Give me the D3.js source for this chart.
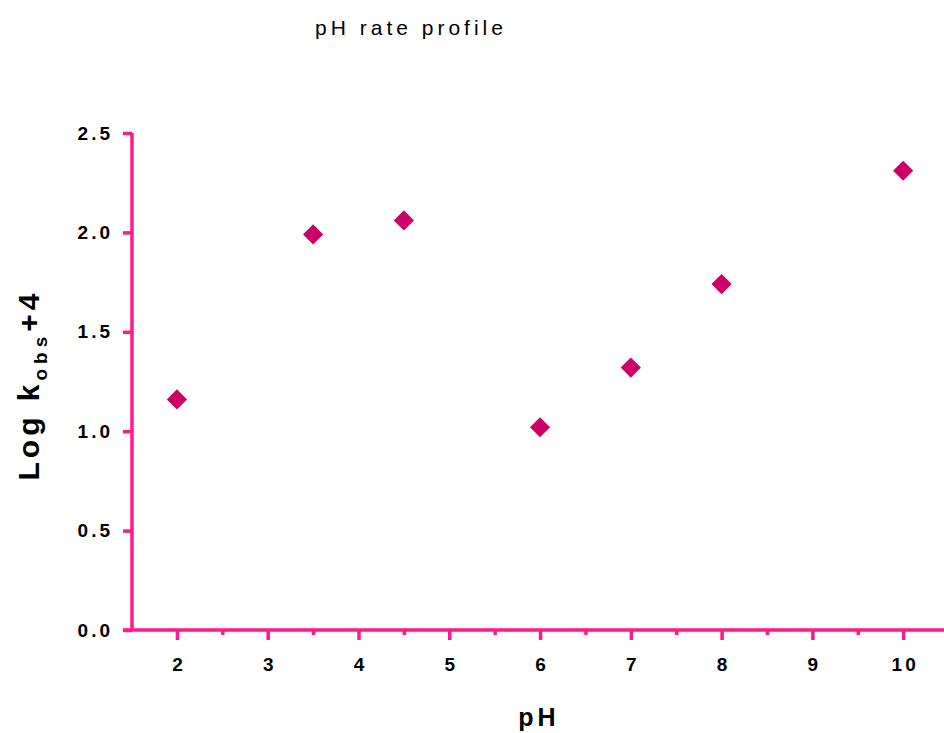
<!DOCTYPE html>
<meta charset="utf-8">
<title>pH rate profile</title>
<style>
body { margin: 0; background: #fff; }
text { font-family: "Liberation Sans", Arial, sans-serif; }
.axis path, .axis line { stroke: #ff1a8c; stroke-width: 3.5; }
.axis text { font-weight: bold; font-size: 19px; letter-spacing: 3px; fill: #000; }
</style>
<body>
<svg width="944" height="733"></svg>
<script src="https://d3js.org/d3.v7.min.js"></script>
<script>
var phValues = [2, 3.5, 4.5, 6, 7, 8, 10];
var logK = [1.16, 1.99, 2.06, 1.02, 1.32, 1.74, 2.31];
var xTicks = [2, 3, 4, 5, 6, 7, 8, 9, 10];
var yTicks = [0, 0.5, 1, 1.5, 2, 2.5];

var svg = d3.select("svg");
var x = d3.scaleLinear().domain([1.505, 10.45]).range([132, 944]);
var y = d3.scaleLinear().domain([0, 2.5]).range([630, 133]);

// title
svg.append("text")
    .attr("x", 411).attr("y", 35)
    .attr("text-anchor", "middle")
    .style("font-size", "21px")
    .style("letter-spacing", "4px")
    .text("pH rate profile");

// x axis, major + minor ticks
svg.append("g")
    .attr("class", "axis")
    .attr("transform", "translate(0,630)")
    .call(d3.axisBottom(x).tickValues(xTicks).tickSize(10).tickSizeOuter(0).tickPadding(18))
    .call(function(g) {
      g.select(".domain").attr("d", "M" + (x.range()[0] - 9) + ",0H944");
      g.selectAll(".tick text").attr("dx", 1.5);
    });

svg.append("g")
    .attr("class", "axis")
    .attr("transform", "translate(0,630)")
    .call(d3.axisBottom(x).tickValues(xTicks.slice(0, -1).map(function(d) { return d + 0.5; })).tickSize(5).tickFormat(""))
    .call(function(g) { g.select(".domain").remove(); });

// y axis
svg.append("g")
    .attr("class", "axis")
    .attr("transform", "translate(132,0)")
    .call(d3.axisLeft(y).tickValues(yTicks).tickSize(9).tickSizeOuter(0).tickPadding(10).tickFormat(d3.format(".1f")))
    .call(function(g) { g.select(".domain").attr("d", "M0,630V133"); });

// axis titles
svg.append("text")
    .attr("x", 539).attr("y", 726)
    .attr("text-anchor", "middle")
    .style("font-size", "25px").style("font-weight", "bold").style("letter-spacing", "4px")
    .text("pH");

var yt = svg.append("text")
    .attr("transform", "translate(39,385) rotate(-90)")
    .attr("text-anchor", "middle")
    .style("font-size", "30px").style("font-weight", "bold").style("letter-spacing", "4px");
yt.append("tspan").text("Log k");
yt.append("tspan").attr("dy", 8).style("font-size", "19px").style("letter-spacing", "5px").text("obs");
yt.append("tspan").attr("dy", -8).text("+4");

// points
svg.selectAll(".pt")
    .data(phValues)
    .enter().append("path")
      .attr("class", "pt")
      .attr("d", d3.symbol().type(d3.symbolDiamond2).size(260))
      .attr("transform", function(d, i) { return "translate(" + x(d) + "," + y(logK[i]) + ")"; })
      .attr("fill", "#cc0066");
</script>
</body>
